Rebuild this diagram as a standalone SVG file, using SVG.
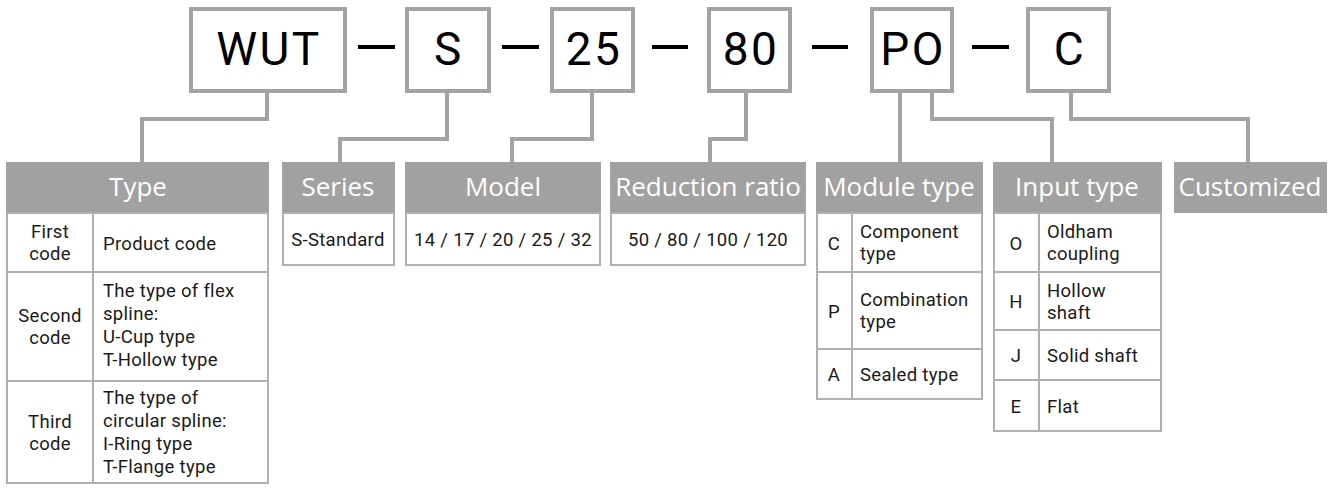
<svg xmlns="http://www.w3.org/2000/svg" width="1333" height="489" viewBox="0 0 1333 489">
<style>
.code{fill:#fff;stroke:#a3a3a3;stroke-width:4}
.ct{font-family:Roboto,"Liberation Sans",sans-serif;font-size:46px;fill:#000;text-anchor:middle;letter-spacing:2.5px}
.dash{stroke:#000;stroke-width:4}
.conn{fill:none;stroke:#a3a3a3;stroke-width:4}
.hd{fill:#a1a1a1}
.ht{font-family:"Open Sans","Noto Sans",sans-serif;font-size:26px;fill:#fff;text-anchor:middle}
.tb{fill:#fff;stroke:#b0b0b0;stroke-width:2}
.ln{stroke:#b0b0b0;stroke-width:2}
.t{font-family:Roboto,"Liberation Sans",sans-serif;font-size:18.5px;fill:#1a1a1a;letter-spacing:0.3px}
.c{text-anchor:middle}
</style>
<rect width="1333" height="489" fill="#fff"/>
<g id="codes">
<g id="code-wut"><rect class="code" x="191" y="9" width="154" height="82"/><text class="ct" x="269" y="65">WUT</text></g>
<g id="code-s"><rect class="code" x="407" y="9" width="82" height="82"/><text class="ct" x="449" y="65">S</text></g>
<g id="code-25"><rect class="code" x="552" y="9" width="81" height="82"/><text class="ct" x="594" y="65">25</text></g>
<g id="code-80"><rect class="code" x="709" y="9" width="81" height="82"/><text class="ct" x="751" y="65">80</text></g>
<g id="code-po"><rect class="code" x="872" y="9" width="80" height="82"/><text class="ct" x="913" y="65">PO</text></g>
<g id="code-c"><rect class="code" x="1028" y="9" width="81" height="82"/><text class="ct" x="1070" y="65">C</text></g>
<g id="dashes">
<line class="dash" x1="358" y1="47" x2="395" y2="47"/>
<line class="dash" x1="502" y1="47" x2="539" y2="47"/>
<line class="dash" x1="652" y1="47" x2="688" y2="47"/>
<line class="dash" x1="812" y1="47" x2="848" y2="47"/>
<line class="dash" x1="972" y1="47" x2="1009" y2="47"/>
</g>
</g>
<g id="connectors">
<path class="conn" d="M267 91V119H142V162"/>
<path class="conn" d="M447 91V139H340V162"/>
<path class="conn" d="M592 91V139H512V162"/>
<path class="conn" d="M746 91V139H710V162"/>
<path class="conn" d="M900 91V162"/>
<path class="conn" d="M932 91V119H1052V162"/>
<path class="conn" d="M1071 91V119H1248V162"/>
</g>
<g id="type">
<rect class="hd" x="6" y="162" width="263" height="51"/>
<text class="ht" x="138" y="196">Type</text>
<rect class="tb" x="7" y="213" width="261" height="270"/>
<line class="ln" x1="93" y1="213" x2="93" y2="483"/>
<line class="ln" x1="7" y1="272" x2="268" y2="272"/>
<line class="ln" x1="7" y1="381" x2="268" y2="381"/>
<text class="t c" x="50" y="238">First</text>
<text class="t c" x="50" y="260">code</text>
<text class="t" x="103" y="250">Product code</text>
<text class="t c" x="50" y="322">Second</text>
<text class="t c" x="50" y="344">code</text>
<text class="t" x="103" y="297">The type of flex</text>
<text class="t" x="103" y="320">spline:</text>
<text class="t" x="103" y="343">U-Cup type</text>
<text class="t" x="103" y="366">T-Hollow type</text>
<text class="t c" x="50" y="428">Third</text>
<text class="t c" x="50" y="450">code</text>
<text class="t" x="103" y="404">The type of</text>
<text class="t" x="103" y="427">circular spline:</text>
<text class="t" x="103" y="450">I-Ring type</text>
<text class="t" x="103" y="473">T-Flange type</text>
</g>
<g id="series">
<rect class="hd" x="282" y="162" width="113" height="51"/>
<text class="ht" x="338" y="196">Series</text>
<rect class="tb" x="283" y="213" width="111" height="52"/>
<text class="t c" x="338" y="246">S-Standard</text>
</g>
<g id="model">
<rect class="hd" x="405" y="162" width="196" height="51"/>
<text class="ht" x="503" y="196">Model</text>
<rect class="tb" x="406" y="213" width="194" height="52"/>
<text class="t c" x="503" y="246">14 / 17 / 20 / 25 / 32</text>
</g>
<g id="ratio">
<rect class="hd" x="610" y="162" width="196" height="51"/>
<text class="ht" x="708" y="196">Reduction ratio</text>
<rect class="tb" x="611" y="213" width="194" height="52"/>
<text class="t c" x="708" y="246">50 / 80 / 100 / 120</text>
</g>
<g id="module">
<rect class="hd" x="816" y="162" width="167" height="51"/>
<text class="ht" x="899" y="196">Module type</text>
<rect class="tb" x="817" y="213" width="165" height="186"/>
<line class="ln" x1="852" y1="213" x2="852" y2="399"/>
<line class="ln" x1="817" y1="272" x2="982" y2="272"/>
<line class="ln" x1="817" y1="349" x2="982" y2="349"/>
<text class="t c" x="834" y="250">C</text>
<text class="t" x="860" y="238">Component</text>
<text class="t" x="860" y="260">type</text>
<text class="t c" x="834" y="318">P</text>
<text class="t" x="860" y="306">Combination</text>
<text class="t" x="860" y="328">type</text>
<text class="t c" x="834" y="381">A</text>
<text class="t" x="860" y="381">Sealed type</text>
</g>
<g id="input">
<rect class="hd" x="993" y="162" width="169" height="51"/>
<text class="ht" x="1077" y="196">Input type</text>
<rect class="tb" x="994" y="213" width="167" height="218"/>
<line class="ln" x1="1039" y1="213" x2="1039" y2="431"/>
<line class="ln" x1="994" y1="272" x2="1161" y2="272"/>
<line class="ln" x1="994" y1="330" x2="1161" y2="330"/>
<line class="ln" x1="994" y1="380" x2="1161" y2="380"/>
<text class="t c" x="1016" y="250">O</text>
<text class="t" x="1047" y="238">Oldham</text>
<text class="t" x="1047" y="260">coupling</text>
<text class="t c" x="1016" y="308">H</text>
<text class="t" x="1047" y="297">Hollow</text>
<text class="t" x="1047" y="319">shaft</text>
<text class="t c" x="1016" y="362">J</text>
<text class="t" x="1047" y="362">Solid shaft</text>
<text class="t c" x="1016" y="413">E</text>
<text class="t" x="1047" y="413">Flat</text>
</g>
<g id="customized">
<rect class="hd" x="1174" y="162" width="153" height="51"/>
<text class="ht" x="1250" y="196">Customized</text>
</g>
</svg>
